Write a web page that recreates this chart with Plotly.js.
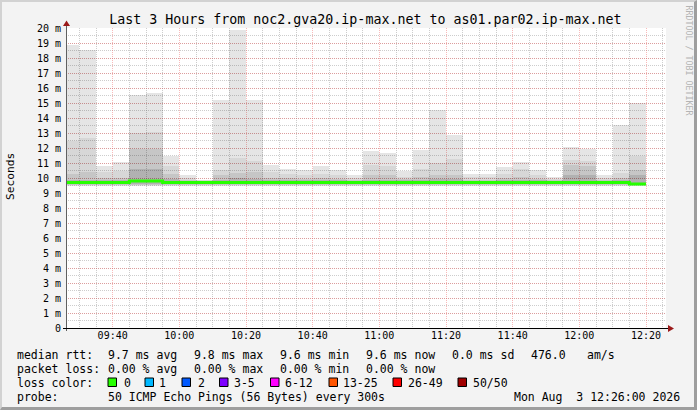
<!DOCTYPE html>
<html>
<head>
<meta charset="utf-8">
<script src="https://cdn.plot.ly/plotly-3.0.1.min.js"></script>
<style>
html,body{margin:0;padding:0;background:#f3f3f3;}
#wrap{position:relative;width:697px;height:410px;}
#chart{width:697px;height:410px;}
#frame{position:absolute;left:0;top:0;width:697px;height:410px;box-sizing:border-box;
border-top:2px solid #d2d2d2;border-left:2px solid #d2d2d2;border-bottom:3px solid #9e9e9e;border-right:3px solid #9e9e9e;pointer-events:none;}
</style>
</head>
<body>
<div id="wrap"><div id="chart"></div><div id="frame"></div></div>
<script>
// interval end times (5-minute steps)
const times = ['09:30','09:35','09:40','09:45','09:50','09:55','10:00','10:05','10:10','10:15',
  '10:20','10:25','10:30','10:35','10:40','10:45','10:50','10:55','11:00','11:05',
  '11:10','11:15','11:20','11:25','11:30','11:35','11:40','11:45','11:50','11:55',
  '12:00','12:05','12:10','12:15','12:20'];
// ping distribution levels (ms)
const pingMax = [18.9,18.55,10.77,11.04,15.55,15.7,11.49,10.22,9.9,15.17,
  19.9,15.17,10.84,10.62,10.55,10.77,10.55,10.17,11.82,11.69,
  10.44,11.89,14.55,12.89,10.29,10.29,10.71,11.06,10.55,10.05,
  12.06,11.95,10.22,13.55,15.0];
const pingQ90 = [12.5,12.65,10.4,10.5,13.0,13.05,10.8,10.0,9.85,10.55,
  11.35,11.15,10.4,10.3,10.2,10.3,10.2,10.0,10.9,10.8,
  10.1,10.6,11.0,11.26,10.05,10.05,10.3,10.6,10.2,9.95,
  11.2,11.15,10.0,10.33,11.44];
const pingQ75 = [10.3,10.4,10.0,10.0,11.95,11.95,10.3,9.9,9.8,10.2,
  10.35,10.4,10.0,10.0,9.95,10.0,9.95,9.9,10.2,10.2,
  9.95,10.1,10.22,10.22,9.9,9.9,10.0,10.1,9.95,9.85,
  10.89,10.8,9.9,10.0,10.55];
const pingQ60 = [9.9,9.9,9.85,9.85,10.6,10.6,9.95,9.8,9.75,9.9,
  10.0,9.95,9.85,9.85,9.85,9.85,9.85,9.8,9.9,9.9,
  9.85,9.9,9.95,9.95,9.8,9.8,9.85,9.85,9.85,9.8,
  10.2,10.2,9.8,9.85,10.2];
const median = [9.7,9.7,9.7,9.7,9.8,9.8,9.7,9.7,9.7,9.7,
  9.7,9.7,9.7,9.7,9.7,9.7,9.7,9.7,9.7,9.7,
  9.7,9.7,9.7,9.7,9.7,9.7,9.7,9.7,9.7,9.7,
  9.7,9.7,9.7,9.7,9.6];
const pingMin = [9.45,9.45,9.45,9.45,9.45,9.45,9.45,9.45,9.45,9.45,
  9.45,9.45,9.45,9.45,9.45,9.45,9.45,9.45,9.45,9.45,
  9.45,9.45,9.45,9.45,9.45,9.45,9.45,9.45,9.45,9.45,
  9.45,9.45,9.45,9.45,9.45];
const yTicks = [0,1,2,3,4,5,6,7,8,9,10,11,12,13,14,15,16,17,18,19,20];
const yTickText = ['0','1 m','2 m','3 m','4 m','5 m','6 m','7 m','8 m','9 m','10 m',
  '11 m','12 m','13 m','14 m','15 m','16 m','17 m','18 m','19 m','20 m'];
const lossLabels = ['0','1','2','3-5','6-12','13-25','26-49','50/50'];
const lossColors = ['#26ff00','#00b8ff','#0059ff','#7e00ff','#ff00ff','#ff5500','#ff0000','#a10000'];

const DAY = '2026-08-03 ';
const STEP = 300000;
const xs = times.map(t => DAY + t + ':00');

function band(lo, hi, color) {
  return {type:'bar', x: xs, base: lo, y: hi.map((v,i)=>v-lo[i]),
    width: STEP, offset: -STEP, marker:{color: color, line:{width:0}},
    hoverinfo:'skip', showlegend:false};
}
const lowA = pingMin.map(v=>v+0.07);
const lowB = pingMin.map(v=>v+0.1);
const lowC = pingMin.map(v=>v+0.15);

const traces = [
  band(pingMin, pingMax, 'rgba(0,0,0,0.10)'),
  band(lowA, pingQ90, 'rgba(0,0,0,0.06)'),
  band(lowB, pingQ75, 'rgba(0,0,0,0.08)'),
  band(lowC, pingQ60, 'rgba(0,0,0,0.10)')
];
const t0 = new Date(new Date(xs[0].replace(' ','T')+'Z').getTime() - STEP).toISOString().replace('T',' ').slice(0,19);
traces.push({type:'scatter', mode:'lines', x:[t0].concat(xs), y:[median[0]].concat(median),
  line:{shape:'vh', color:'#26ff00', width:3}, hoverinfo:'skip', showlegend:false});

// pixel helpers
const L=66, T=28, W=600, H=300;
const PX = p => (p-L)/W;
const PY = p => (T+H-p)/H;
const MONO = 'DejaVu Sans Mono';
const shapes = [];
const ann = [];
// axes lines and arrows
shapes.push({type:'line', xref:'paper', yref:'paper', x0:PX(66.5), x1:PX(66.5), y0:PY(331), y1:PY(24), line:{color:'#606060', width:1}});
shapes.push({type:'line', xref:'paper', yref:'paper', x0:PX(63), x1:PX(669), y0:PY(328.5), y1:PY(328.5), line:{color:'#000000', width:1}});
shapes.push({type:'path', xref:'paper', yref:'paper', path:`M ${PX(66.5)} ${PY(20.5)} L ${PX(63)} ${PY(26)} L ${PX(70)} ${PY(26)} Z`, fillcolor:'#9b1a1a', line:{width:0}});
shapes.push({type:'path', xref:'paper', yref:'paper', path:`M ${PX(674)} ${PY(328.5)} L ${PX(668)} ${PY(325)} L ${PX(668)} ${PY(332)} Z`, fillcolor:'#9b1a1a', line:{width:0}});

function txt(x, y, s, opt) {
  ann.push(Object.assign({xref:'paper', yref:'paper', x:PX(x), y:PY(y), text:s, showarrow:false,
    xanchor:'left', yanchor:'middle', borderpad:0, font:{family:MONO, size:11.5, color:'#000'}}, opt||{}));
}
// legend rows
const r1=354.5, r2=368.5, r3=382.5, r4=396.5;
txt(16, r1, 'median rtt:');
txt(107, r1, '9.7 ms avg'); txt(193, r1, '9.8 ms max'); txt(279, r1, '9.6 ms min');
txt(365, r1, '9.6 ms now'); txt(451, r1, '0.0 ms sd'); txt(530, r1, '476.0'); txt(586, r1, 'am/s');
txt(16, r2, 'packet loss:');
txt(107, r2, '0.00 % avg'); txt(193, r2, '0.00 % max'); txt(279, r2, '0.00 % min'); txt(365, r2, '0.00 % now');
txt(16, r3, 'loss color:');
const boxX = [108,145,182,219.5,270.5,329,393,458];
const labX = [122.5,157.5,197,233,283.5,342,406.5,471.5];
lossLabels.forEach((lab,i)=>{
  shapes.push({type:'rect', xref:'paper', yref:'paper', x0:PX(boxX[i]), x1:PX(boxX[i]+8.5), y0:PY(386.5), y1:PY(378),
    fillcolor: lossColors[i], line:{color:'#000', width:1}});
  txt(labX[i], r3, lab);
});
txt(16, r4, 'probe:');
txt(107, r4, '50 ICMP Echo Pings (56 Bytes) every 300s');
txt(681, r4, 'Mon Aug  3 12:26:00 2026', {xanchor:'right'});
// y axis title
txt(10, 177, 'Seconds', {xanchor:'center', textangle:-90, font:{family:MONO, size:11.2, color:'#000'}});
// watermark
txt(688, 60.5, 'RRDTOOL / TOBI OETIKER', {xanchor:'center', textangle:90, font:{family:MONO, size:8.3, color:'#b4b4b4'}});

const layout = {
  width:697, height:410,
  margin:{l:L, r:697-L-W, t:T, b:410-T-H, pad:0},
  paper_bgcolor:'#f3f3f3', plot_bgcolor:'#ffffff',
  barmode:'overlay', bargap:0, showlegend:false,
  title:{text:'Last 3 Hours from noc2.gva20.ip-max.net to as01.par02.ip-max.net',
    x:347.8/697, xanchor:'center', xref:'paper', y:1-19.5/410, yanchor:'middle', yref:'container',
    font:{family:MONO, size:13.3, color:'#000'}},
  xaxis:{type:'date', range:[DAY+'09:26:00', DAY+'12:26:00'], tick0:DAY+'09:40:00', dtick:1200000,
    tickformat:'%H:%M', ticks:'', showline:false, zeroline:false,
    showgrid:true, gridcolor:'rgba(240,90,90,0.42)', gridwidth:1, griddash:'1px,1px',
    minor:{tick0:DAY+'09:40:00', dtick:STEP, showgrid:true, gridcolor:'rgba(130,130,130,0.4)', gridwidth:1, griddash:'1px,1px', ticks:''},
    tickfont:{family:MONO, size:10, color:'#000'}, fixedrange:true},
  yaxis:{range:[0,20], tickvals:yTicks, ticktext:yTickText, ticks:'', showline:false, zeroline:false,
    showgrid:true, gridcolor:'rgba(240,90,90,0.42)', gridwidth:1, griddash:'1px,1px',
    minor:{dtick:0.5, showgrid:true, gridcolor:'rgba(130,130,130,0.4)', gridwidth:1, griddash:'1px,1px', ticks:''},
    tickfont:{family:MONO, size:10, color:'#000'}, ticklabelstandoff:4, fixedrange:true},
  shapes:shapes, annotations:ann
};
Plotly.newPlot('chart', traces, layout, {displayModeBar:false, staticPlot:true});
</script>
</body>
</html>
